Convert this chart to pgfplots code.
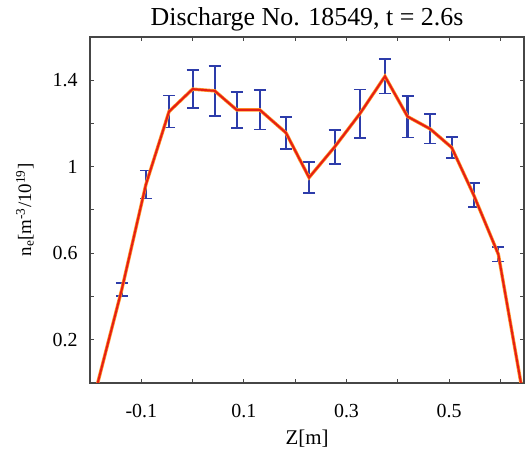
\documentclass[border=0pt]{standalone}
\usepackage{fontspec}
\setmainfont{Liberation Serif}
\usepackage{pgfplots}
\pgfplotsset{compat=1.18}
\definecolor{ebblue}{RGB}{45,60,170}
\definecolor{lred}{RGB}{230,30,20}
\definecolor{lorange}{RGB}{255,150,40}
\definecolor{axgray}{RGB}{70,70,70}
\begin{document}
\begin{tikzpicture}[x=1bp,y=1bp]
\begin{axis}[
  at={(0,0)}, anchor=south west,
  scale only axis, width=434bp, height=346bp,
  xmin=-0.2, xmax=0.646, ymin=0, ymax=1.6,
  axis line style={axgray, line width=1.2bp},
  every tick/.style={axgray, line width=1bp},
  tick align=inside, major tick length=4bp,
  xtick={-0.1,0,0.1,0.2,0.3,0.4,0.5,0.6},
  xticklabels={-0.1,,0.1,,0.3,,0.5,},
  ytick={0.2,0.4,0.6,0.8,1.0,1.2,1.4},
  yticklabels={0.2,,0.6,,1,,1.4},
  /pgf/number format/assume math mode=true,
  ticklabel style={font=\fontsize{20}{20}\selectfont},
  xticklabel style={yshift=-18bp},
  yticklabel style={xshift=-9bp},
  title={Discharge No. 18549, t = 2.6s},
  title style={font=\fontsize{26}{26}\selectfont, yshift=-4bp},
  xlabel={Z[m]},
  xlabel style={font=\fontsize{21}{21}\selectfont, yshift=-5bp},
  ylabel={n\textsubscript{e}[m\textsuperscript{-3}/10\textsuperscript{19}]},
  ylabel style={font=\fontsize{19}{19}\selectfont, yshift=12bp},
  clip=true,
  every error bar/.append style={line width=2.2bp, draw=ebblue},
]
\addplot[draw=none, mark=none, ebblue, line width=2.2bp,
  error bars/.cd, y dir=both, y explicit,
  error bar style={draw=ebblue, line width=2.2bp},
  error mark options={rotate=90, mark size=6bp, ebblue, line width=1.6bp}]
  table[x=z, y=n, y error=e] {
z n e
-0.138 0.433 0.030
-0.091 0.918 0.064
-0.046 1.255 0.074
0.000 1.359 0.088
0.043 1.351 0.115
0.086 1.263 0.084
0.131 1.263 0.091
0.182 1.157 0.074
0.227 0.950 0.072
0.277 1.092 0.079
0.326 1.245 0.113
0.375 1.418 0.079
0.419 1.232 0.096
0.463 1.175 0.068
0.505 1.089 0.049
0.548 0.869 0.056
0.596 0.595 0.033
};
\addplot[lorange, line width=3.4bp, mark=none] table[x=z, y=n] {
z n
-0.185 0
-0.138 0.433
-0.091 0.918
-0.046 1.255
0.000 1.359
0.043 1.351
0.086 1.263
0.131 1.263
0.182 1.157
0.227 0.950
0.277 1.092
0.326 1.245
0.375 1.418
0.419 1.232
0.463 1.175
0.505 1.089
0.548 0.869
0.596 0.595
0.640 0
};
\addplot[lred, line width=2bp, mark=none] table[x=z, y=n] {
z n
-0.185 0
-0.138 0.433
-0.091 0.918
-0.046 1.255
0.000 1.359
0.043 1.351
0.086 1.263
0.131 1.263
0.182 1.157
0.227 0.950
0.277 1.092
0.326 1.245
0.375 1.418
0.419 1.232
0.463 1.175
0.505 1.089
0.548 0.869
0.596 0.595
0.640 0
};
\end{axis}
\pgfresetboundingbox
\path[use as bounding box] (-90,-69) rectangle (436,383);
\end{tikzpicture}
\end{document}
